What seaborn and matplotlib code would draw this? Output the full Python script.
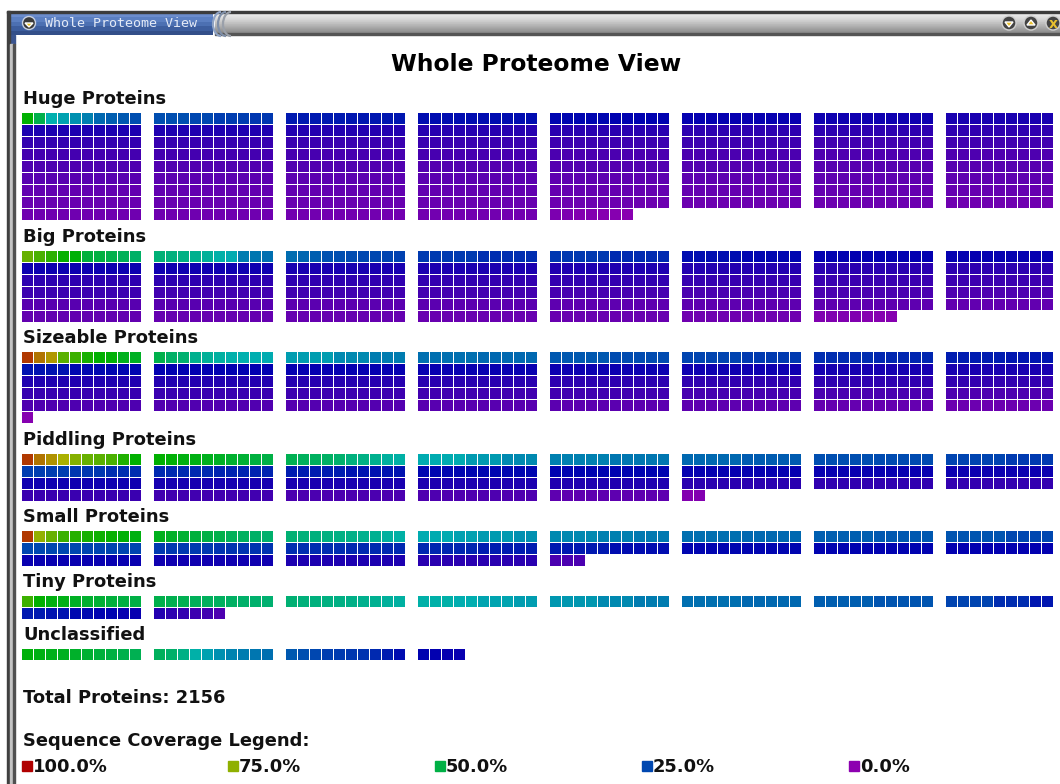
"""
Whole proteome view: each little square is a protein, coloured by sequence coverage
Proteins are laid out row by row over 8 blocks, one grid per size class
"""

import numpy as np
import matplotlib
matplotlib.use('Agg')
import matplotlib.pyplot as plt
from matplotlib.colors import ListedColormap, hsv_to_rgb
from matplotlib.patches import Rectangle, Circle, Polygon, Arc
import seaborn as sns

# Coverage in percent. One entry per 10 cell strip, read left to right, blocks 1-8, then next row
# A strip with fewer than 10 values spreads them evenly over its cells
huge_cov = [
    [58.2, 49.4, 37.8, 35.8, 33.9, 32, 29, 28, 27.1, 26.1], [26.1, 25.1, 24.2, 23.2], [19.8, 19.3], [18.3, 18], [17.4, 17], [16.4, 16], [15], [14],
    [13.5], [13.1], [12.7], [12.3], [12], [11.7], [11.4], [11.1],
    [10.6], [10.3], [10], [9.8], [9.6], [9.4], [9.2], [9],
    [8.9], [8.7], [8.5], [8.3], [8.1], [7.9], [7.7], [7.6],
    [7.5], [7.3], [7.2], [7], [6.9], [6.7], [6.6], [6.4],
    [6.3], [6.2], [6.1], [5.9], [5.8], [5.7], [5.6], [5.5],
    [5.4], [5.3], [5.2], [5.1], [5], [4.9], [4.8], [4.7],
    [4.6], [4.5], [4.4], [4.3], [4.2], [4.1], [4], [3.9],
    [3.8], [3.6], [3.4], [3.2], [2, 1.5, 1, 0.4],
]
huge_last = 7

big_cov = [
    [70.4, 67, 63.5, 59, 57.6, 51.4, 50.7, 49.6, 47.9, 46.1], [44.5, 43.7, 42.6, 41.7, 40.3, 38.5, 36.8, 31.3, 30.6, 29.9],
    [29.5, 28.8, 28, 26.4, 26, 25.7, 25.3, 25, 24.7, 24.3], [23.7, 22.2], [23.2, 21.7], [18.3, 17.4], [16.7], [16.4],
    [15.6], [15], [13.9], [13.4], [12.9], [12.5], [12.1], [11.7],
    [11.7], [11.4], [11.1], [10.9], [10.6], [10.3], [9.9], [9.6],
    [9.6], [9.3], [9], [8.7], [8.5], [8.2], [8], [7.8],
    [6.5], [6.3], [6.2], [6], [5.8], [5.6], [5.5], [5.3],
    [5.2], [5], [4.8], [4.6], [4.3], [3.7], [1.6, 0.8],
]
big_last = 7

sizeable_cov = [
    [93.1, 86.1, 81.9, 68.8, 65.3, 61.1, 58.3, 57.6, 54.9, 54.2], [49.6, 46.1, 45.2, 41.7, 40.3, 39.2, 38.2, 37.5, 37.2, 36.8],
    [35.3, 32.9, 31.5], [30, 29], [27.1, 25.6], [24.7, 23.7], [22.2, 21.2], [20.3, 19.3],
    [18.8, 17.8, 17.2], [16.6], [16.4], [15.9], [15.4], [15], [14.4], [14],
    [13], [12.7], [12.4], [12.1], [11.7], [11.3], [11], [10.6],
    [10.4], [10], [9.6], [9.3], [9], [8.5], [8.1], [7.7],
    [7.6], [7.2], [6.9], [6.6], [6.2], [5.7], [4.9], [4],
    [1],
]
sizeable_last = 1

piddling_cov = [
    [93.1, 86.1, 82.6, 78.5, 74, 70.4, 68.8, 67, 61.8, 58.3], [58.3, 57.6, 56.6, 55.9, 54.9, 54.2, 53.1, 52, 51, 50],
    [48.5, 47.5, 47, 46.5, 45.5, 43.6, 42.6, 41.7, 39.7, 38.7], [36.8, 34.9, 32.9], [32, 30.5], [29, 27.6], [26.1, 25.6], [24.7, 23.7],
    [24.2, 23.2, 22.2], [21.7, 20.8], [20.3, 18.8], [17.4], [16.9], [16.4], [15.9], [15.4],
    [15], [14.4], [14], [13.5], [13], [12], [11], [10.6],
    [9.8], [9.1], [8.1], [7.6], [5.7], [1.2],
]
piddling_last = 2

small_cov = [
    [93.1, 75.7, 70.4, 65.3, 62.5, 61.1, 60, 59, 57.6, 56.6], [54.9, 53.8, 52.7, 51.4, 50.3, 49.3, 47.9, 46.9, 46.1, 45.5],
    [44.6, 44.1, 43.6, 43.1, 42.6, 42.2, 41.7, 41.2, 39.7, 38.7], [36.8, 35.8, 34.9, 33.9], [32.9, 32, 31], [30, 29], [28, 27.1], [26.6, 25.1],
    [25.1, 24.7], [23.7, 22.7], [22.2, 21.7], [21.2, 20.3], [19.8, 18.3], [17.4], [16.9], [16.6],
    [15.9], [14.9], [13.5], [12], [8.1],
]
small_last = 3

tiny_cov = [
    [65.3, 58.3, 56.6, 55.6, 54.2, 53.1, 52, 51.4, 50.7, 50], [49.6, 49, 48.5, 48, 47.5, 47, 46.5, 46, 45.5, 45],
    [44.6, 44.1, 43.6, 43.1, 42.6, 42.2, 41.7, 41.2, 40.2, 39.2], [38.3, 37.3, 36.3, 35.3], [34.4, 32.9, 31.5], [30, 29], [28, 26.6], [24.7, 22.2, 19.3],
    [19.8, 18.8, 17.8, 16.9, 15.9], [12.5, 11.5, 10.6, 9.6, 9.1, 7.6],
]
tiny_last = 6

unclassified_cov = [
    [57.2, 56.2, 55.3, 54.3, 53.3, 52.4, 51.4, 50.4, 49.4, 48.5], [47.5, 46, 42.6, 38.3, 35.8, 33.9, 32.4, 31.5, 30.5, 30],
    [27.1, 26.1, 25.1, 24.2, 23.7, 23.2, 22.7, 21.7, 20.3, 18.3], [16.9, 16.6, 16.4, 15.9],
]
unclassified_last = 4

group_names = ['Huge Proteins', 'Big Proteins', 'Sizeable Proteins', 'Piddling Proteins',
               'Small Proteins', 'Tiny Proteins', 'Unclassified']
group_cov = [huge_cov, big_cov, sizeable_cov, piddling_cov, small_cov, tiny_cov, unclassified_cov]
group_last = [huge_last, big_last, sizeable_last, piddling_last, small_last, tiny_last, unclassified_last]

total_proteins = 2156
legend_values = [100.0, 75.0, 50.0, 25.0, 0.0]

# Layout in pixels of the 1060x784 picture
GRID_LEFT = 21
CELL = 12
N_COLS = 86
group_tops = [112, 250, 351, 453, 530, 595, 648]
heading_y = [104, 242, 343, 445, 522, 587, 640]
legend_x = [22, 228, 435, 642, 849]

# Hue runs from red at 100% to purple at 0%
hues = np.linspace(288, 0, 256) / 360
coverage_cmap = ListedColormap(hsv_to_rgb(np.column_stack([hues, np.ones(256), np.full(256, 0.69)])))


# Turn the list of strips into a rows x columns table, empty cells stay NaN
def build_grid(strips, last):
    n_rows = (len(strips) + 7) // 8
    grid = np.full((n_rows, N_COLS), np.nan)
    for k, strip in enumerate(strips):
        row, block = k // 8, k % 8
        n = last if k == len(strips) - 1 else 10
        for i in range(n):
            col = block * 11 + i
            if col < N_COLS:
                grid[row, col] = strip[i * len(strip) // n]
    return grid


def draw_window(ax):
    # Grey title bar
    grey = np.array([0.93, 0.9, 0.87, 0.84, 0.8, 0.76, 0.72, 0.68, 0.64, 0.6, 0.56]).reshape(-1, 1)
    ax.imshow(grey, extent=(215, 1060, 33, 13), cmap='gray', vmin=0, vmax=1, aspect='auto', zorder=1)
    # Blue tab
    blue = np.array([[0.42, 0.55, 0.8], [0.36, 0.5, 0.76], [0.3, 0.44, 0.7], [0.24, 0.37, 0.62], [0.2, 0.31, 0.54]])
    ax.imshow(blue.reshape(-1, 1, 3), extent=(10, 213, 35, 13), aspect='auto', zorder=1)
    ax.add_patch(Rectangle((10, 35), 5, 9, color='#3a5590', zorder=1))
    # Borders
    ax.add_patch(Rectangle((7, 10.5), 1053, 2.2, color='#3c3c3c', zorder=2))
    ax.add_patch(Rectangle((215, 33), 845, 2, color='#555555', zorder=2))
    ax.add_patch(Rectangle((7, 10.5), 3, 774, color='#404040', zorder=2))
    ax.add_patch(Rectangle((10, 44), 3, 740, color='#c4c4c4', zorder=2))
    ax.add_patch(Rectangle((13, 44), 2, 740, color='#505050', zorder=2))
    # Curved end of the tab
    for x0, col in [(213, '#8fa3c4'), (218, '#7f8fa8'), (223, '#9aa0aa')]:
        ax.add_patch(Arc((x0 + 8, 24), 16, 24, theta1=90, theta2=270, color=col, lw=1.6, zorder=3))
    # Buttons
    ax.add_patch(Circle((29, 23), 6.5, fc='#3a3a3a', ec='#c8d0e0', lw=1, zorder=3))
    ax.add_patch(Polygon([(25, 23), (33, 23), (29, 27)], fc='#e8c020', zorder=4))
    for x0, pts in [(1009, [(1005, 22), (1013, 22), (1009, 27)]), (1031, [(1027, 25), (1035, 25), (1031, 20)])]:
        ax.add_patch(Circle((x0, 23), 7, fc='#444444', ec='#d0d0d0', lw=1, zorder=3))
        ax.add_patch(Polygon(pts, fc='#e8c030', zorder=4))
    ax.add_patch(Circle((1053, 23), 7, fc='#444444', ec='#d0d0d0', lw=1, zorder=3))
    ax.text(1053, 23.5, 'x', color='#e8c030', fontsize=10, fontweight='bold', ha='center', va='center', zorder=4)
    ax.text(45, 23.5, 'Whole Proteome View', family='DejaVu Sans Mono', fontsize=9.6,
            color='#e4eaf6', va='center', zorder=4)


def proteome_plot():
    sns.set_theme(style='white')
    plt.rcParams['font.family'] = ['DejaVu Sans']

    fig = plt.figure(figsize=(10.6, 7.84), dpi=100, facecolor='white')

    # Pixel coordinates axes for the window and all the text
    page = fig.add_axes([0, 0, 1, 1])
    page.set_axis_off()
    draw_window(page)
    page.set_xlim(0, 1060)
    page.set_ylim(784, 0)

    page.text(536, 71, 'Whole Proteome View', fontsize=16.8, fontweight='bold', ha='center', color='black')

    for name, cov, last, top, y in zip(group_names, group_cov, group_last, group_tops, heading_y):
        page.text(23, y, name, fontsize=12.9, fontweight='bold', color='#111111')

        grid = build_grid(cov, last)
        height = grid.shape[0] * CELL
        ax = fig.add_axes([GRID_LEFT / 1060, 1 - (top + height) / 784, N_COLS * CELL / 1060, height / 784])
        sns.heatmap(grid, ax=ax, cmap=coverage_cmap, vmin=0, vmax=100, cbar=False,
                    linewidths=0.6, linecolor='white', xticklabels=False, yticklabels=False)
        ax.patch.set_alpha(0)

    page.text(23, 703, 'Total Proteins: ' + str(total_proteins), fontsize=12.9, fontweight='bold', color='#111111')
    page.text(23, 746, 'Sequence Coverage Legend:', fontsize=12.9, fontweight='bold', color='#111111')

    for x, value in zip(legend_x, legend_values):
        page.add_patch(Rectangle((x, 761), 10, 10, color=coverage_cmap(value / 100)))
        page.text(x + 11, 772, str(value) + '%', fontsize=12.9, fontweight='bold', color='#111111')

    plt.savefig('out.png', dpi=100)


proteome_plot()
